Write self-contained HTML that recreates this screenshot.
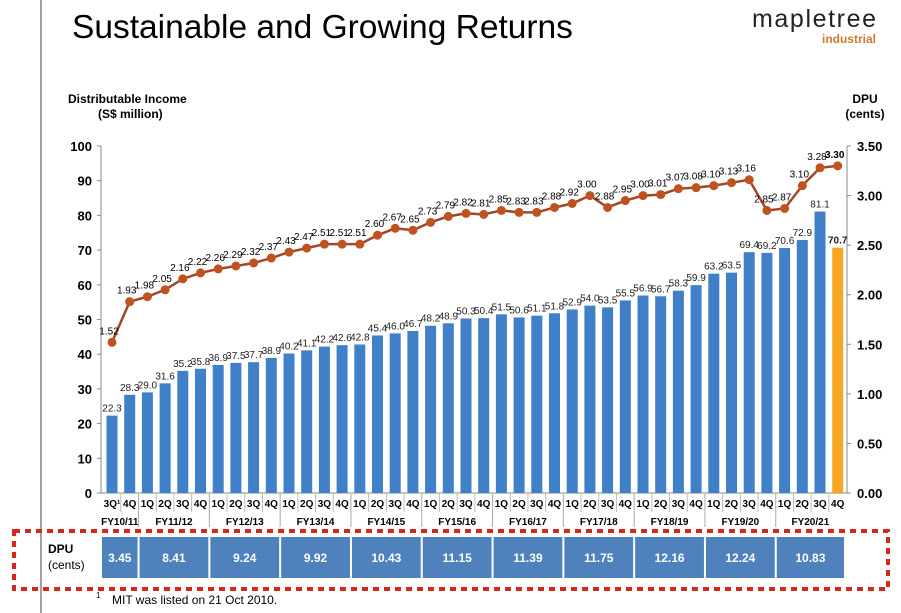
<!DOCTYPE html>
<html><head><meta charset="utf-8">
<style>
body{margin:0;background:#fff;font-family:"Liberation Sans",Arial,sans-serif;}
#wrap{position:relative;width:901px;height:613px;overflow:hidden;background:#fff;}
svg text{font-family:"Liberation Sans",Arial,sans-serif;}
</style></head>
<body>
<div id="wrap">
<svg id="chart" width="901" height="613">
  <line x1="41" y1="0" x2="41" y2="613" stroke="#444" stroke-width="1"/>
  <text x="72" y="38" font-size="33.5" fill="#000">Sustainable and Growing Returns</text>
  <text x="752" y="27" font-size="25" fill="#222" textLength="124">mapletree</text>
  <text x="876" y="43" font-size="12" font-weight="bold" fill="#d07a30" text-anchor="end">industrial</text>
  <text x="68" y="103" font-size="12" font-weight="bold">Distributable Income</text>
  <text x="98" y="118" font-size="12" font-weight="bold">(S$ million)</text>
  <text x="865" y="103" font-size="12" font-weight="bold" text-anchor="middle">DPU</text>
  <text x="865" y="118" font-size="12" font-weight="bold" text-anchor="middle">(cents)</text>
  <g id="g"></g>
  <rect x="14" y="531" width="874" height="58" fill="none" stroke="#d9261c" stroke-width="4" stroke-dasharray="6,5"/>
  <text x="48" y="553" font-size="12" font-weight="bold">DPU</text>
  <text x="48" y="569" font-size="12">(cents)</text>
  <text x="96" y="598" font-size="8">1</text>
  <text x="112" y="604" font-size="12">MIT was listed on 21 Oct 2010.</text>
</svg>
</div>
<script>
const quarters=["3Q¹","4Q","1Q","2Q","3Q","4Q","1Q","2Q","3Q","4Q","1Q","2Q","3Q","4Q","1Q","2Q","3Q","4Q","1Q","2Q","3Q","4Q","1Q","2Q","3Q","4Q","1Q","2Q","3Q","4Q","1Q","2Q","3Q","4Q","1Q","2Q","3Q","4Q","1Q","2Q","3Q","4Q"];
const income=[22.3,28.3,29.0,31.6,35.2,35.8,36.9,37.5,37.7,38.9,40.2,41.1,42.2,42.6,42.8,45.4,46.0,46.7,48.2,48.9,50.3,50.4,51.5,50.6,51.1,51.8,52.9,54.0,53.5,55.5,56.9,56.7,58.3,59.9,63.2,63.5,69.4,69.2,70.6,72.9,81.1,70.7];
const dpu=[1.52,1.93,1.98,2.05,2.16,2.22,2.26,2.29,2.32,2.37,2.43,2.47,2.51,2.51,2.51,2.60,2.67,2.65,2.73,2.79,2.82,2.81,2.85,2.83,2.83,2.88,2.92,3.00,2.88,2.95,3.00,3.01,3.07,3.08,3.10,3.13,3.16,2.85,2.87,3.10,3.28,3.30];
const fyNames=["FY10/11","FY11/12","FY12/13","FY13/14","FY14/15","FY15/16","FY16/17","FY17/18","FY18/19","FY19/20","FY20/21"];
const fyDpu=["3.45","8.41","9.24","9.92","10.43","11.15","11.39","11.75","12.16","12.24","10.83"];
const leftTicks=[0,10,20,30,40,50,60,70,80,90,100];
const rightTicks=["0.00","0.50","1.00","1.50","2.00","2.50","3.00","3.50"];

const NS="http://www.w3.org/2000/svg";
const g=document.getElementById('g');
function el(t,a,txt){const e=document.createElementNS(NS,t);for(const k in a)e.setAttribute(k,a[k]);if(txt!=null)e.textContent=txt;g.appendChild(e);return e;}
const y0=493,yTop=146;
const yL=v=>y0-(v/100)*(y0-yTop);
const yR=v=>y0-(v/3.5)*(y0-yTop);
const step=17.7;
const xC=i=>112+step*i;
const bw=11;

let e=el('line',{x1:101,y1:yTop,x2:101,y2:y0,stroke:'#888'});

e=el('line',{x1:847,y1:yTop,x2:847,y2:y0,stroke:'#888'});

e=el('line',{x1:101,y1:y0,x2:847,y2:y0,stroke:'#888'});

leftTicks.forEach(v=>{
  const t=el('text',{x:92,y:yL(v)+5,'font-size':13,'font-weight':'bold','text-anchor':'end'},v);
  
  el('line',{x1:97,y1:yL(v),x2:101,y2:yL(v),stroke:'#888'});
});
rightTicks.forEach(v=>{
  const t=el('text',{x:857,y:yR(+v)+5,'font-size':13,'font-weight':'bold'},v);
  
  el('line',{x1:847,y1:yR(+v),x2:851,y2:yR(+v),stroke:'#888'});
});
income.forEach((v,i)=>{
  const last=i===income.length-1;
  const r=el('rect',{x:xC(i)-bw/2,y:yL(v),width:bw,height:y0-yL(v),fill:last?'#f5a623':'#3f80c8'});
  
  const t=el('text',{x:xC(i),y:yL(v)-4,'font-size':10,'text-anchor':'middle','fill':'#222','font-weight':last?'bold':'normal'},v.toFixed(1));
  
});
const pts=dpu.map((v,i)=>xC(i)+','+yR(v)).join(' ');
e=el('polyline',{points:pts,fill:'none',stroke:'#a0462a','stroke-width':2.5});

dpu.forEach((v,i)=>{
  const c=el('circle',{cx:xC(i),cy:yR(v),r:4.5,fill:'#c0521f'});
  
  const last=i===dpu.length-1;
  const t=el('text',{x:xC(i)-3,y:yR(v)-8,'font-size':10,'text-anchor':'middle','font-weight':last?'bold':'normal'},v.toFixed(2));
  
});
quarters.forEach((q,i)=>{
  const t=el('text',{x:xC(i),y:507,'font-size':10,'font-weight':'bold','text-anchor':'middle'},q);
  
});
const starts=[0];for(let k=2;k<=42;k+=4)starts.push(k);
for(let k=0;k<fyNames.length;k++){
  const a=starts[k],b=starts[k+1];
  const xa=k===0?101:xC(a)-step/2, xb=k===fyNames.length-1?845:xC(b)-step/2;
  if(k>0){el('line',{x1:xa,y1:494,x2:xa,y2:527,stroke:'#aaa'});}
  for(let j=a+1;j<b;j++)el('line',{x1:xC(j)-step/2,y1:494,x2:xC(j)-step/2,y2:512,stroke:'#bbb'});
  const t=el('text',{x:(xa+xb)/2,y:525,'font-size':10,'font-weight':'bold','text-anchor':'middle'},fyNames[k]);
  
  const r=el('rect',{x:xa+1,y:537,width:xb-xa-2,height:41,fill:'#4f81bd'});
  
  const t2=el('text',{x:(xa+xb)/2,y:562,'font-size':12,'font-weight':'bold','text-anchor':'middle',fill:'#fff'},fyDpu[k]);
  
}
</script>
</body></html>
